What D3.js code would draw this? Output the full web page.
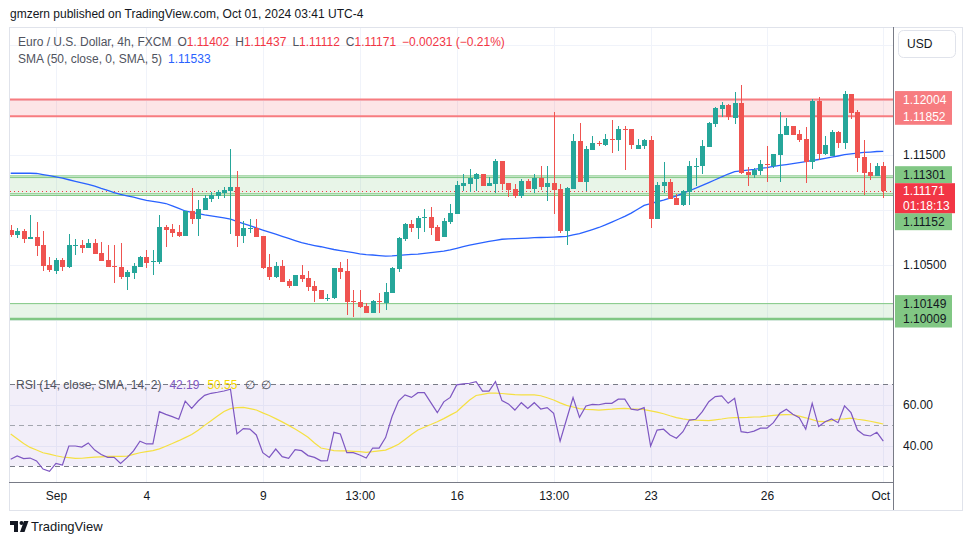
<!DOCTYPE html>
<html><head><meta charset="utf-8">
<script src="https://cdn.jsdelivr.net/npm/d3@7"></script>
<style>
body{margin:0;background:#fff;}
svg{display:block;font-family:"Liberation Sans",Arial,sans-serif;}
</style>
</head><body>
<svg id="chart" width="970" height="545"></svg>
<script>
// ---------------- DATA ----------------
const opens = [1.10818,1.10775,1.10809,1.10739,1.10755,1.10682,1.10500,1.10448,1.10545,1.10485,
1.10677,1.10682,1.10657,1.10700,1.10609,1.10545,1.10491,1.10482,1.10394,1.10430,
1.10485,1.10573,1.10532,1.10530,1.10845,1.10827,1.10800,1.10766,1.10991,1.10918,
1.11000,1.11100,1.11127,1.11154,1.11173,1.11209,1.10766,1.10832,1.10836,1.10764,
1.10482,1.10394,1.10491,1.10357,1.10312,1.10409,1.10382,1.10309,1.10276,1.10200,
1.10203,1.10473,1.10445,1.10177,1.10167,1.10130,1.10067,1.10177,1.10158,1.10248,
1.10466,1.10736,1.10873,1.10836,1.10932,1.10936,1.10845,1.10755,1.10894,1.10966,
1.11218,1.11239,1.11285,1.11327,1.11218,1.11236,1.11445,1.11245,1.11191,1.11130,
1.11264,1.11191,1.11291,1.11209,1.11245,1.11191,1.10812,1.11191,1.11627,1.11254,
1.11545,1.11609,1.11591,1.11645,1.11636,1.11736,1.11736,1.11554,1.11582,1.11636,
1.10921,1.11218,1.11254,1.11109,1.11045,1.11164,1.11395,1.11400,1.11573,1.11782,
1.11918,1.11955,1.11836,1.11973,1.11345,1.11318,1.11355,1.11418,1.11400,1.11500,
1.11682,1.11764,1.11691,1.11645,1.11436,1.11991,1.11509,1.11491,1.11709,1.11609,
1.12055,1.11891,1.11482,1.11345,1.11309,1.11402];
const highs = [1.10864,1.10836,1.10827,1.10955,1.10891,1.10809,1.10573,1.10564,1.10564,1.10782,
1.10736,1.10727,1.10736,1.10736,1.10709,1.10682,1.10682,1.10700,1.10454,1.10521,
1.10582,1.10636,1.10636,1.10955,1.10864,1.10873,1.10864,1.10991,1.11200,1.11091,
1.11136,1.11166,1.11182,1.11209,1.11554,1.11355,1.10900,1.10918,1.10918,1.10764,
1.10600,1.10527,1.10545,1.10376,1.10409,1.10500,1.10445,1.10355,1.10276,1.10239,
1.10473,1.10527,1.10555,1.10276,1.10276,1.10158,1.10185,1.10248,1.10339,1.10482,
1.10755,1.10882,1.10909,1.10945,1.11009,1.11027,1.10864,1.10927,1.11055,1.11264,
1.11327,1.11373,1.11336,1.11330,1.11300,1.11464,1.11445,1.11245,1.11236,1.11282,
1.11282,1.11327,1.11400,1.11400,1.11891,1.11236,1.11209,1.11691,1.11791,1.11582,
1.11673,1.11627,1.11691,1.11818,1.11764,1.11764,1.11736,1.11645,1.11645,1.11673,
1.11254,1.11436,1.11282,1.11145,1.11182,1.11445,1.11473,1.11636,1.11800,1.11936,
1.11982,1.11964,1.12073,1.12136,1.11391,1.11382,1.11454,1.11582,1.11509,1.11891,
1.11836,1.11764,1.11727,1.11755,1.12009,1.12027,1.11673,1.11727,1.11718,1.12082,
1.12055,1.11909,1.11636,1.11427,1.11427,1.11437];
const lows = [1.10757,1.10745,1.10703,1.10736,1.10585,1.10448,1.10436,1.10421,1.10448,1.10475,
1.10594,1.10612,1.10657,1.10603,1.10539,1.10485,1.10339,1.10376,1.10276,1.10376,
1.10485,1.10475,1.10412,1.10512,1.10666,1.10755,1.10755,1.10766,1.10873,1.10766,
1.11000,1.11076,1.11100,1.11109,1.10782,1.10666,1.10703,1.10794,1.10757,1.10466,
1.10366,1.10385,1.10348,1.10294,1.10312,1.10348,1.10266,1.10167,1.10194,1.10176,
1.10194,1.10376,1.10049,1.10030,1.10112,1.10067,1.10067,1.10067,1.10094,1.10248,
1.10439,1.10718,1.10800,1.10736,1.10800,1.10773,1.10721,1.10755,1.10876,1.10966,
1.11173,1.11166,1.11173,1.11218,1.11218,1.11154,1.11182,1.11121,1.11112,1.11112,
1.11191,1.11157,1.11182,1.11085,1.10966,1.10794,1.10685,1.11191,1.11254,1.11173,
1.11545,1.11582,1.11582,1.11518,1.11536,1.11364,1.11554,1.11554,1.11554,1.10839,
1.10921,1.11157,1.11100,1.11045,1.11036,1.11045,1.11218,1.11327,1.11573,1.11755,
1.11845,1.11818,1.11782,1.11327,1.11218,1.11291,1.11318,1.11254,1.11382,1.11254,
1.11682,1.11682,1.11618,1.11245,1.11373,1.11454,1.11500,1.11491,1.11564,1.11554,
1.11827,1.11345,1.11136,1.11273,1.11309,1.11112];
const closes = [1.10773,1.10809,1.10739,1.10755,1.10675,1.10494,1.10454,1.10545,1.10485,1.10682,
1.10682,1.10657,1.10700,1.10603,1.10539,1.10485,1.10486,1.10394,1.10439,1.10491,
1.10573,1.10521,1.10536,1.10845,1.10818,1.10794,1.10764,1.10991,1.10918,1.11009,
1.11109,1.11136,1.11164,1.11182,1.11209,1.10766,1.10836,1.10836,1.10757,1.10475,
1.10394,1.10491,1.10348,1.10312,1.10409,1.10373,1.10303,1.10266,1.10194,1.10203,
1.10473,1.10439,1.10167,1.10176,1.10121,1.10067,1.10176,1.10176,1.10257,1.10473,
1.10745,1.10873,1.10836,1.10927,1.10936,1.10836,1.10721,1.10900,1.10976,1.11224,
1.11245,1.11291,1.11327,1.11218,1.11245,1.11445,1.11236,1.11182,1.11130,1.11264,
1.11191,1.11291,1.11209,1.11245,1.11182,1.10812,1.11200,1.11627,1.11254,1.11554,
1.11609,1.11597,1.11645,1.11639,1.11736,1.11730,1.11591,1.11591,1.11636,1.10921,
1.11227,1.11254,1.11100,1.11045,1.11173,1.11400,1.11400,1.11582,1.11791,1.11927,
1.11955,1.11845,1.11973,1.11336,1.11318,1.11364,1.11418,1.11414,1.11509,1.11691,
1.11764,1.11682,1.11636,1.11436,1.11991,1.11509,1.11591,1.11709,1.11609,1.12055,
1.11882,1.11473,1.11336,1.11309,1.11402,1.11171];
const sma50 = [1.11334,1.11334,1.11334,1.11334,1.11332,1.11322,1.11312,1.11301,1.11289,1.11275,
1.11261,1.11247,1.11234,1.11216,1.11196,1.11178,1.11159,1.11143,1.11129,1.11116,
1.11102,1.11088,1.11078,1.11069,1.11059,1.11037,1.11014,1.10991,1.10979,1.10967,
1.10956,1.10947,1.10937,1.10928,1.10917,1.10897,1.10877,1.10858,1.10838,1.10818,
1.10799,1.10780,1.10761,1.10742,1.10722,1.10703,1.10689,1.10677,1.10666,1.10653,
1.10641,1.10631,1.10621,1.10612,1.10602,1.10595,1.10591,1.10586,1.10581,1.10583,
1.10588,1.10592,1.10596,1.10599,1.10605,1.10612,1.10619,1.10626,1.10638,1.10652,
1.10666,1.10680,1.10693,1.10704,1.10714,1.10724,1.10734,1.10737,1.10739,1.10742,
1.10745,1.10748,1.10750,1.10752,1.10754,1.10757,1.10761,1.10773,1.10786,1.10804,
1.10822,1.10841,1.10864,1.10890,1.10916,1.10942,1.10972,1.11007,1.11042,1.11059,
1.11075,1.11090,1.11107,1.11129,1.11152,1.11175,1.11198,1.11223,1.11249,1.11275,
1.11301,1.11327,1.11349,1.11355,1.11363,1.11369,1.11378,1.11386,1.11396,1.11405,
1.11413,1.11422,1.11431,1.11440,1.11450,1.11459,1.11469,1.11480,1.11491,1.11503,
1.11511,1.11517,1.11523,1.11527,1.11532,1.11533];
const rsi14 = [33.3,34.9,33.6,33.9,32.5,28.5,27.4,31.3,30.5,39.8,
39.8,39.3,41.3,37.8,35.6,34.2,34.2,31.3,34.1,37.4,
42.1,40.8,40.8,56.6,55.3,54.2,52.9,61.8,58.2,61.8,
64.6,65.6,66.1,66.7,67.6,45.7,48.3,48.1,45.2,36.5,
34.2,38.3,34.6,33.8,38.0,37.5,35.1,34.2,32.5,32.6,
46.5,45.7,36.5,36.5,35.4,33.9,38.8,38.8,43.9,54.2,
61.8,64.8,63.6,65.9,65.9,61.0,56.1,61.4,63.6,69.7,
70.2,70.5,71.3,66.7,66.7,71.3,62.0,60.4,57.4,61.0,
58.2,61.0,57.9,58.6,55.8,42.2,52.9,63.5,53.8,59.4,
60.2,60.0,60.7,60.7,62.7,62.7,57.8,57.4,58.6,39.8,
47.6,48.0,45.2,43.6,46.8,52.5,52.9,56.6,61.5,64.0,
64.3,60.7,63.1,46.8,46.3,47.1,48.5,48.5,51.2,55.8,
57.8,55.3,53.7,48.0,60.7,49.3,51.7,53.0,51.2,59.4,
56.1,47.6,45.2,44.7,46.5,42.19];
const rsiMa = [45.7,43.3,41.0,39.1,37.8,36.5,35.8,35.0,34.4,34.1,
33.7,33.8,34.1,34.3,34.5,34.7,34.7,34.7,34.8,35.7,
36.5,37.0,37.5,38.4,39.7,41.0,42.4,43.9,45.4,47.5,
49.9,52.2,54.5,56.7,58.1,58.6,58.7,58.1,57.4,56.0,
54.7,53.2,51.6,49.9,48.1,46.2,44.1,41.3,38.8,38.2,
37.5,37.4,37.4,37.2,37.0,36.7,37.0,37.4,37.8,39.1,
40.6,43.0,45.4,47.6,49.0,50.3,51.7,53.2,54.9,56.6,
59.5,62.3,64.5,65.1,65.7,65.7,65.5,65.2,64.9,64.8,
64.8,64.8,64.4,63.4,62.3,60.9,59.7,58.9,58.1,57.7,
57.6,57.4,57.6,57.8,58.1,58.2,58.0,57.9,57.6,57.0,
56.4,55.6,54.6,53.7,53.1,52.6,52.4,52.3,52.2,52.6,
53.0,53.5,53.7,53.7,53.8,54.0,54.1,54.4,54.8,55.0,
55.2,55.1,54.4,53.6,52.7,51.8,51.7,52.2,52.9,53.1,
53.4,52.9,52.5,51.9,51.2,50.55];
const timeLabels = ["Sep","4","9","13:00","16","13:00","23","26","Oct"];
const timeLabelBars = [7,21,39,54,69,84,99,117,135];
const priceGrid = [1.100,1.105,1.110,1.115,1.120,1.125];
const priceAxisTicks = [1.105,1.115];
const rsiAxisTicks = [40,60];
const rsiGrid = [40,60];
const rsiBands = [70,50,30];
const redZone = [1.12004,1.11852];
const midZone = [1.11301,1.11152];
const lowZone = [1.10149,1.10009];
const countdown = "01:18:13";

// ---------------- LAYOUT ----------------
const svg = d3.select("#chart");
const L = 10, R = 893, mainTop = 28, mainBot = 372, rsiBot = 482, frameBot = 510;
const n = closes.length;
const x = d3.scaleLinear().domain([0, n-1]).range([10.7, 883.3]);
const y = d3.scaleLinear().domain([1.10, 1.12]).range([320, 100]);
const yr = d3.scaleLinear().domain([30, 70]).range([466, 384.3]);
const UP = "#26a69a", DOWN = "#ef5350", GRID = "#f0f3fa", TXT = "#131722", MUTED = "#50535e";
const last = n-1;

// header
svg.append("text").attr("x",10).attr("y",18).attr("font-size",12).attr("fill",TXT)
  .text("gmzern published on TradingView.com, Oct 01, 2024 03:41 UTC-4");

// frame
svg.append("rect").attr("x",9.5).attr("y",27.5).attr("width",953).attr("height",483)
  .attr("fill","none").attr("stroke","#e0e3eb");

const defs = svg.append("defs");
defs.append("clipPath").attr("id","clipMain").append("rect").attr("x",L).attr("y",mainTop).attr("width",R-L).attr("height",mainBot-mainTop);
defs.append("clipPath").attr("id","clipRsi").append("rect").attr("x",L).attr("y",mainBot).attr("width",R-L).attr("height",rsiBot-mainBot);

// grid
const grid = svg.append("g");
grid.selectAll("line.hg").data(priceGrid).join("line")
  .attr("x1",L).attr("x2",R).attr("y1",d=>Math.round(y(d))+0.5).attr("y2",d=>Math.round(y(d))+0.5)
  .attr("stroke",GRID);
grid.selectAll("line.rg").data(rsiGrid).join("line")
  .attr("x1",L).attr("x2",R).attr("y1",d=>Math.round(yr(d))+0.5).attr("y2",d=>Math.round(yr(d))+0.5)
  .attr("stroke",GRID);
grid.selectAll("line.vg").data(timeLabelBars).join("line")
  .attr("x1",d=>Math.round(x(d))+0.5).attr("x2",d=>Math.round(x(d))+0.5)
  .attr("y1",mainTop).attr("y2",rsiBot).attr("stroke",GRID);

// main pane
const main = svg.append("g").attr("clip-path","url(#clipMain)");

// zones
main.append("rect").attr("x",L).attr("width",R-L).attr("y",y(redZone[0])).attr("height",y(redZone[1])-y(redZone[0]))
  .attr("fill","rgba(242,54,69,0.13)");
redZone.forEach(v=>main.append("line").attr("x1",L).attr("x2",R).attr("y1",y(v)).attr("y2",y(v))
  .attr("stroke","#f77c80").attr("stroke-width",2));

main.append("rect").attr("x",L).attr("width",R-L).attr("y",y(midZone[0])-1).attr("height",y(midZone[1])-y(midZone[0])+3)
  .attr("fill","rgba(76,175,80,0.13)");
[[midZone[0],-1],[midZone[0],0.7],[midZone[1],0.5],[midZone[1],2.2]].forEach(([v,o])=>
  main.append("line").attr("x1",L).attr("x2",R).attr("y1",y(v)+o).attr("y2",y(v)+o)
   .attr("stroke","#81c784").attr("stroke-width",1));

main.append("rect").attr("x",L).attr("width",R-L).attr("y",y(lowZone[0])).attr("height",y(lowZone[1])-y(lowZone[0]))
  .attr("fill","rgba(76,175,80,0.13)");
main.append("line").attr("x1",L).attr("x2",R).attr("y1",y(lowZone[0])).attr("y2",y(lowZone[0]))
  .attr("stroke","#81c784").attr("stroke-width",1);
main.append("line").attr("x1",L).attr("x2",R).attr("y1",y(lowZone[1])).attr("y2",y(lowZone[1]))
  .attr("stroke","#81c784").attr("stroke-width",2.5);

// current price dotted line
main.append("line").attr("x1",L).attr("x2",R).attr("y1",Math.round(y(closes[last]))+0.5).attr("y2",Math.round(y(closes[last]))+0.5)
  .attr("stroke","#f23645").attr("stroke-dasharray","1,3");

// SMA
main.append("path").datum(sma50).attr("fill","none").attr("stroke","#2962ff").attr("stroke-width",1.3)
  .attr("d", d3.line().x((d,i)=>x(i)).y(d=>y(d)));

// candles
const bars = closes.map((c,i)=>({i,o:opens[i],h:highs[i],l:lows[i],c}));
const cg = main.append("g").attr("shape-rendering","crispEdges");
cg.selectAll("rect.wick").data(bars).join("rect")
  .attr("x",d=>Math.round(x(d.i)))
  .attr("width",1)
  .attr("y",d=>y(d.h)).attr("height",d=>Math.max(1,y(d.l)-y(d.h)))
  .attr("fill",d=>d.c>=d.o?UP:DOWN);
cg.selectAll("rect.body").data(bars).join("rect")
  .attr("x",d=>Math.round(x(d.i))-2)
  .attr("width",5)
  .attr("y",d=>y(Math.max(d.o,d.c)))
  .attr("height",d=>Math.max(1,Math.abs(y(d.o)-y(d.c))))
  .attr("fill",d=>d.c>=d.o?UP:DOWN);

// legend
const lg = svg.append("text").attr("x",18).attr("y",46).attr("font-size",12).attr("fill",MUTED)
  .attr("xml:space","preserve").style("white-space","pre");
lg.append("tspan").text("Euro / U.S. Dollar, 4h, FXCM");
const ohlcLegend = [["O",opens[last]],["H",highs[last]],["L",lows[last]],["C",closes[last]]];
ohlcLegend.forEach(([k,v],j)=>{
  lg.append("tspan").attr("dx", 6).text(k);
  lg.append("tspan").attr("fill","#f23645").text(d3.format(".5f")(v));
});
const chg = closes[last]-closes[last-1];
lg.append("tspan").attr("dx",6).attr("fill","#f23645")
  .text((d3.format(".5f")(chg)).replace("-","\u2212")+" ("+(d3.format(".2f")(chg/closes[last-1]*100)).replace("-","\u2212")+"%)");
const lg2 = svg.append("text").attr("x",18).attr("y",63).attr("font-size",12).attr("fill",MUTED);
lg2.append("tspan").text("SMA (50, close, 0, SMA, 5)");
lg2.append("tspan").attr("dx",6).attr("fill","#2962ff").text(d3.format(".5f")(sma50[last]));

// RSI pane
const rp = svg.append("g").attr("clip-path","url(#clipRsi)");
rp.append("rect").attr("x",L).attr("width",R-L).attr("y",yr(70)).attr("height",yr(30)-yr(70))
  .attr("fill","rgba(126,87,194,0.1)");
rp.selectAll("line.band").data(rsiBands).join("line")
  .attr("x1",L).attr("x2",R).attr("y1",d=>Math.round(yr(d))+0.5).attr("y2",d=>Math.round(yr(d))+0.5)
  .attr("stroke",d=>d===50?"#a3a6af":"#787b86").attr("stroke-dasharray","5,4");
rp.append("path").datum(rsiMa).attr("fill","none").attr("stroke","#f5e042").attr("stroke-width",1.2)
  .attr("d", d3.line().x((d,i)=>x(i)).y(d=>yr(d)));
rp.append("path").datum(rsi14).attr("fill","none").attr("stroke","#7e57c2").attr("stroke-width",1.2)
  .attr("d", d3.line().x((d,i)=>x(i)).y(d=>yr(d)));

const rl = svg.append("text").attr("x",16).attr("y",389).attr("font-size",12).attr("fill",MUTED);
rl.append("tspan").text("RSI (14, close, SMA, 14, 2)");
rl.append("tspan").attr("dx",8).attr("fill","#7e57c2").text(d3.format(".2f")(rsi14[last]));
rl.append("tspan").attr("dx",8).attr("fill","#f5d800").text(d3.format(".2f")(rsiMa[last]));
rl.append("tspan").attr("dx",8).text("\u2205");
rl.append("tspan").attr("dx",6).text("\u2205");

// axis lines
svg.append("line").attr("x1",R+0.5).attr("x2",R+0.5).attr("y1",27).attr("y2",frameBot).attr("stroke","#787b86");
svg.append("line").attr("x1",9).attr("x2",R).attr("y1",rsiBot+0.5).attr("y2",rsiBot+0.5).attr("stroke","#787b86");

// price axis
const pa = svg.append("g").attr("transform",`translate(${R},0)`)
  .call(d3.axisRight(y).tickValues(priceAxisTicks).tickFormat(d3.format(".5f")).tickSize(0).tickPadding(10));
pa.select(".domain").remove();
pa.selectAll("text").attr("font-size",12).attr("fill",TXT).attr("font-family","Liberation Sans, Arial, sans-serif");

const ra = svg.append("g").attr("transform",`translate(${R},0)`)
  .call(d3.axisRight(yr).tickValues(rsiAxisTicks).tickFormat(d3.format(".2f")).tickSize(0).tickPadding(10));
ra.select(".domain").remove();
ra.selectAll("text").attr("font-size",12).attr("fill",TXT).attr("font-family","Liberation Sans, Arial, sans-serif");

// time axis
const ta = svg.append("g").attr("transform",`translate(0,${rsiBot})`)
  .call(d3.axisBottom(x).tickValues(timeLabelBars).tickFormat((d,i)=>timeLabels[i]).tickSize(0).tickPadding(9));
ta.select(".domain").remove();
ta.selectAll("text").attr("font-size",12).attr("fill",TXT).attr("font-family","Liberation Sans, Arial, sans-serif");
ta.selectAll(".tick").filter(d=>d===last).select("text").attr("dx",-3);

// USD button
svg.append("rect").attr("x",898.5).attr("y",30.5).attr("width",57).attr("height",27).attr("rx",5)
  .attr("fill","#fff").attr("stroke","#e0e3eb");
svg.append("text").attr("x",907).attr("y",48).attr("font-size",12).attr("fill",TXT).text("USD");

// price labels
const BH = 17, BX = 895, BW = 57;
function priceBox(cy, txt, fill, tcol, w){
  svg.append("rect").attr("x",BX).attr("y",cy-BH/2).attr("width",w||BW).attr("height",BH).attr("fill",fill);
  svg.append("text").attr("x",903).attr("y",cy+4.3).attr("font-size",12).attr("fill",tcol).text(txt);
}
redZone.forEach(v=>priceBox(y(v), d3.format(".5f")(v), "#f77c80", "#fff"));
const cy0 = y(closes[last]);
const curTop = cy0-8, curBot = cy0+22;
lowZone.concat(midZone).forEach(v=>{
  let cy = y(v);
  if (cy+BH/2 > curTop && cy-BH/2 < curBot) cy = (cy < cy0 ? curTop-BH/2 : curBot+BH/2);
  priceBox(cy, d3.format(".5f")(v), "#81c784", TXT);
});
svg.append("rect").attr("x",BX).attr("y",curTop).attr("width",60).attr("height",curBot-curTop).attr("fill","#f23645");
svg.append("text").attr("x",903).attr("y",cy0+4.3).attr("font-size",12).attr("fill","#fff").text(d3.format(".5f")(closes[last]));
svg.append("text").attr("x",903).attr("y",cy0+19).attr("font-size",12).attr("fill","#fff").text(countdown);

// footer logo
const logo = svg.append("g").attr("fill",TXT);
logo.append("rect").attr("x",10).attr("y",521).attr("width",8).attr("height",4);
logo.append("rect").attr("x",14).attr("y",521).attr("width",4).attr("height",11);
logo.append("circle").attr("cx",21.5).attr("cy",523).attr("r",2);
logo.append("path").attr("d","M24,521 L28.5,521 L24.5,532 L20,532 Z");
svg.append("text").attr("x",31).attr("y",531).attr("font-size",13).attr("fill",TXT).text("TradingView");
</script>
</body></html>
